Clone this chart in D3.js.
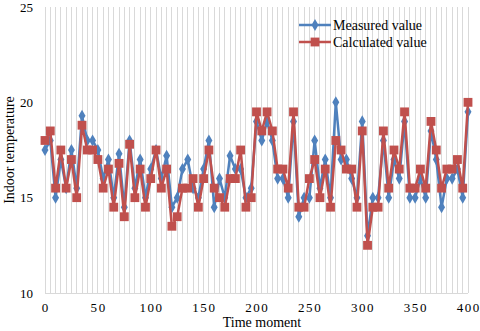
<!DOCTYPE html>
<html><head><meta charset="utf-8">
<script src="https://cdn.jsdelivr.net/npm/d3@7"></script>
<style>body{margin:0;background:#fff}svg{display:block}text{font-family:"Liberation Serif","Times New Roman",serif;fill:#000}</style>
</head><body>
<svg id="c" width="480" height="331"></svg>
<script>
const times = d3.range(0, 401, 5);
const measured = [17.5,18.0,15.0,17.0,15.5,17.5,15.5,19.3,18.0,18.0,17.5,16.0,17.0,15.0,17.3,14.5,18.0,15.5,17.0,15.0,16.5,17.5,16.0,17.2,14.5,15.0,16.5,17.0,15.5,15.0,16.5,18.0,14.5,16.0,15.0,17.2,16.5,16.5,15.0,15.5,19.0,18.0,19.0,18.0,16.0,16.0,15.0,19.0,14.0,15.0,15.0,18.0,15.5,17.0,15.0,20.0,17.0,17.0,16.0,15.0,19.0,13.0,15.0,15.0,18.0,15.0,17.0,16.0,19.0,15.0,15.0,16.0,15.0,18.5,17.0,14.5,16.0,16.0,16.5,15.0,19.5];
const calculated = [18.0,18.5,15.5,17.5,15.5,17.0,15.0,18.8,17.5,17.5,17.0,15.5,16.5,14.5,16.8,14.0,17.8,15.0,16.5,14.5,16.0,17.5,15.5,16.5,13.5,14.0,15.5,15.5,16.0,14.5,16.0,17.5,15.5,15.0,14.5,16.0,16.0,17.5,14.5,15.0,19.5,18.5,19.5,18.5,16.5,16.5,15.5,19.5,14.5,14.5,16.0,17.0,15.0,16.5,14.5,18.0,17.5,16.5,16.5,14.5,18.5,12.5,14.5,14.5,18.5,15.5,17.5,16.5,19.5,15.5,15.5,16.5,15.5,19.0,17.5,15.5,16.5,16.5,17.0,15.5,20.0];
const xTicks = [0,50,100,150,200,250,300,350,400];
const yTicks = [10,15,20,25];
const seriesNames = ["Measured value","Calculated value"];
const colors = ["#4f81bd","#c0504d"];

const svg = d3.select("#c");
const x = d3.scaleLinear().domain([0,400]).range([45,468]);
const y = d3.scaleLinear().domain([10,25]).range([293,7]);

// vertical gridlines every 5
svg.append("g").selectAll("line").data(times).join("line")
  .attr("x1",d=>x(d)).attr("x2",d=>x(d)).attr("y1",y(25)).attr("y2",y(10))
  .attr("stroke","#d9d9d9").attr("stroke-width",1).attr("shape-rendering","crispEdges");
// bottom axis line
svg.append("line").attr("x1",x(0)).attr("x2",x(400)).attr("y1",y(10)).attr("y2",y(10))
  .attr("stroke","#d9d9d9").attr("stroke-width",1).attr("shape-rendering","crispEdges");

// y tick labels
svg.append("g").selectAll("text").data(yTicks).join("text")
  .attr("x",33).attr("y",d=>y(d)).attr("dy","0.35em").attr("text-anchor","end")
  .style("font-size","13px").text(d=>d);
// x tick labels
svg.append("g").selectAll("text").data(xTicks).join("text")
  .attr("x",d=>x(d)+0.8).attr("y",312).attr("text-anchor","middle")
  .style("font-size","13px").style("letter-spacing","1.6px").text(d=>d);

svg.append("text").attr("x",262).attr("y",327).attr("text-anchor","middle")
  .style("font-size","14px").text("Time moment");
svg.append("text").attr("transform","translate(14,150) rotate(-90)").attr("text-anchor","middle")
  .style("font-size","14px").text("Indoor temperature");

const line = d3.line().x((d,i)=>x(times[i])).y(d=>y(d));
const diamond = d3.symbol().type(d3.symbolDiamond).size(42);
const square = d3.symbol().type(d3.symbolSquare).size(78);

function drawSeries(vals, color, sym){
  svg.append("path").datum(vals).attr("d",line).attr("fill","none")
    .attr("stroke",color).attr("stroke-width",2.5).attr("stroke-linejoin","round");
  svg.append("g").selectAll("path").data(vals).join("path")
    .attr("transform",(d,i)=>`translate(${x(times[i])},${y(d)})`)
    .attr("d",sym).attr("fill",color);
}
drawSeries(measured, colors[0], diamond);
drawSeries(calculated, colors[1], square);

// legend
const leg = svg.append("g");
const syms = [diamond, square];
seriesNames.forEach((n,i)=>{
  const ly = 25 + i*17;
  leg.append("line").attr("x1",299).attr("x2",331).attr("y1",ly).attr("y2",ly)
    .attr("stroke",colors[i]).attr("stroke-width",2.5);
  leg.append("path").attr("transform",`translate(315,${ly})`).attr("d",syms[i]).attr("fill",colors[i]);
  leg.append("text").attr("x",333).attr("y",ly).attr("dy","0.35em")
    .style("font-size","14px").text(n);
});
</script>
</body></html>
